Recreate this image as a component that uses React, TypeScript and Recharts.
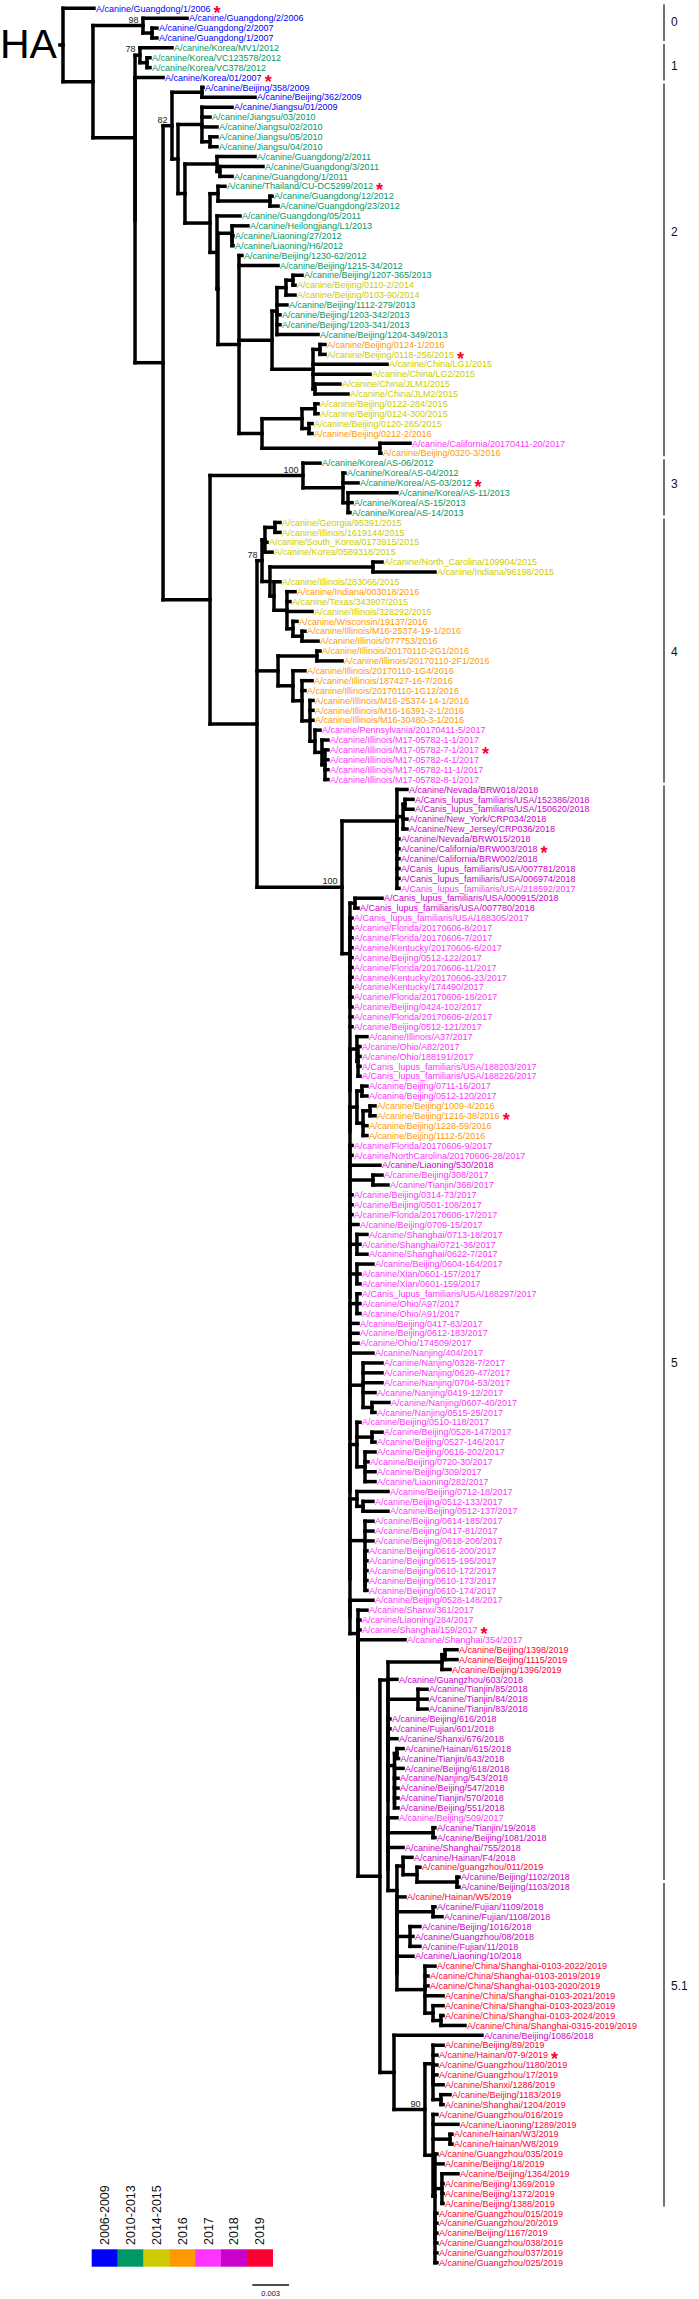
import React from 'react';
import { ScatterChart, Scatter, XAxis, YAxis, ReferenceLine } from 'recharts';

const FONT = '"Liberation Sans", Arial, Helvetica, sans-serif';
const W = 699;
const H = 2299;

// Tip labels, top to bottom
const LEAF_NAMES: string[] = [
  'A/canine/Guangdong/1/2006', 'A/canine/Guangdong/2/2006', 'A/canine/Guangdong/2/2007', 'A/canine/Guangdong/1/2007',
  'A/canine/Korea/MV1/2012', 'A/canine/Korea/VC123578/2012', 'A/canine/Korea/VC378/2012', 'A/canine/Korea/01/2007',
  'A/canine/Beijing/358/2009', 'A/canine/Beijing/362/2009', 'A/canine/Jiangsu/01/2009', 'A/canine/Jiangsu/03/2010',
  'A/canine/Jiangsu/02/2010', 'A/canine/Jiangsu/05/2010', 'A/canine/Jiangsu/04/2010', 'A/canine/Guangdong/2/2011',
  'A/canine/Guangdong/3/2011', 'A/canine/Guangdong/1/2011', 'A/canine/Thailand/CU-DC5299/2012', 'A/canine/Guangdong/12/2012',
  'A/canine/Guangdong/23/2012', 'A/canine/Guangdong/05/2011', 'A/canine/Heilongjiang/L1/2013', 'A/canine/Liaoning/27/2012',
  'A/canine/Liaoning/H6/2012', 'A/canine/Beijing/1230-62/2012', 'A/canine/Beijing/1215-34/2012', 'A/canine/Beijing/1207-365/2013',
  'A/canine/Beijing/0110-2/2014', 'A/canine/Beijing/0103-90/2014', 'A/canine/Beijing/1112-279/2013', 'A/canine/Beijing/1203-342/2013',
  'A/canine/Beijing/1203-341/2013', 'A/canine/Beijing/1204-349/2013', 'A/canine/Beijing/0124-1/2016', 'A/canine/Beijing/0118-256/2015',
  'A/canine/China/LG1/2015', 'A/canine/China/LG2/2015', 'A/canine/China/JLM1/2015', 'A/canine/China/JLM2/2015',
  'A/canine/Beijing/0122-284/2015', 'A/canine/Beijing/0124-300/2015', 'A/canine/Beijing/0120-265/2015', 'A/canine/Beijing/0212-2/2016',
  'A/canine/California/20170411-20/2017', 'A/canine/Beijing/0320-3/2016', 'A/canine/Korea/AS-06/2012', 'A/canine/Korea/AS-04/2012',
  'A/canine/Korea/AS-03/2012', 'A/canine/Korea/AS-11/2013', 'A/canine/Korea/AS-15/2013', 'A/canine/Korea/AS-14/2013',
  'A/canine/Georgia/95391/2015', 'A/canine/Illinois/1619144/2015', 'A/canine/South_Korea/0173915/2015', 'A/canine/Korea/0589318/2015',
  'A/canine/North_Carolina/109904/2015', 'A/canine/Indiana/96198/2015', 'A/canine/Illinois/283066/2015', 'A/canine/Indiana/003018/2016',
  'A/canine/Texas/343907/2015', 'A/canine/Illinois/328292/2015', 'A/canine/Wisconsin/19137/2016', 'A/canine/Illinois/M16-25374-19-1/2016',
  'A/canine/Illinois/077753/2016', 'A/canine/Illinois/20170110-2G1/2016', 'A/canine/Illinois/20170110-2F1/2016', 'A/canine/Illinois/20170110-1G4/2016',
  'A/canine/Illinois/187427-16-7/2016', 'A/canine/Illinois/20170110-1G12/2016', 'A/canine/Illinois/M16-25374-14-1/2016', 'A/canine/Illinois/M16-16391-2-1/2016',
  'A/canine/Illinois/M16-30480-3-1/2016', 'A/canine/Pennsylvania/20170411-5/2017', 'A/canine/Illinois/M17-05782-1-1/2017', 'A/canine/Illinois/M17-05782-7-1/2017',
  'A/canine/Illinois/M17-05782-4-1/2017', 'A/canine/Illinois/M17-05782-11-1/2017', 'A/canine/Illinois/M17-05782-8-1/2017', 'A/canine/Nevada/BRW018/2018',
  'A/Canis_lupus_familiaris/USA/152386/2018', 'A/Canis_lupus_familiaris/USA/150620/2018', 'A/canine/New_York/CRP034/2018', 'A/canine/New_Jersey/CRP036/2018',
  'A/canine/Nevada/BRW015/2018', 'A/canine/California/BRW003/2018', 'A/canine/California/BRW002/2018', 'A/Canis_lupus_familiaris/USA/007781/2018',
  'A/Canis_lupus_familiaris/USA/006974/2018', 'A/Canis_lupus_familiaris/USA/218592/2017', 'A/Canis_lupus_familiaris/USA/000915/2018', 'A/Canis_lupus_familiaris/USA/007780/2018',
  'A/Canis_lupus_familiaris/USA/188305/2017', 'A/canine/Florida/20170606-8/2017', 'A/canine/Florida/20170606-7/2017', 'A/canine/Kentucky/20170606-6/2017',
  'A/canine/Beijing/0512-122/2017', 'A/canine/Florida/20170606-11/2017', 'A/canine/Kentucky/20170606-23/2017', 'A/canine/Kentucky/174490/2017',
  'A/canine/Florida/20170606-18/2017', 'A/canine/Beijing/0424-102/2017', 'A/canine/Florida/20170606-2/2017', 'A/canine/Beijing/0512-121/2017',
  'A/canine/Illinois/A37/2017', 'A/canine/Ohio/A82/2017', 'A/canine/Ohio/188191/2017', 'A/Canis_lupus_familiaris/USA/188203/2017',
  'A/Canis_lupus_familiaris/USA/188226/2017', 'A/canine/Beijing/0711-16/2017', 'A/canine/Beijing/0512-120/2017', 'A/canine/Beijing/1009-4/2016',
  'A/canine/Beijing/1216-38/2016', 'A/canine/Beijing/1228-59/2016', 'A/canine/Beijing/1112-5/2016', 'A/canine/Florida/20170606-9/2017',
  'A/canine/NorthCarolina/20170606-28/2017', 'A/canine/Liaoning/530/2018', 'A/canine/Beijing/308/2017', 'A/canine/Tianjin/368/2017',
  'A/canine/Beijing/0314-73/2017', 'A/canine/Beijing/0501-108/2017', 'A/canine/Florida/20170606-17/2017', 'A/canine/Beijing/0709-15/2017',
  'A/canine/Shanghai/0713-18/2017', 'A/canine/Shanghai/0721-36/2017', 'A/canine/Shanghai/0622-7/2017', 'A/canine/Beijing/0604-164/2017',
  'A/canine/Xian/0601-157/2017', 'A/canine/Xian/0601-159/2017', 'A/Canis_lupus_familiaris/USA/188297/2017', 'A/canine/Ohio/A97/2017',
  'A/canine/Ohio/A91/2017', 'A/canine/Beijing/0417-83/2017', 'A/canine/Beijing/0612-183/2017', 'A/canine/Ohio/174509/2017',
  'A/canine/Nanjing/404/2017', 'A/canine/Nanjing/0328-7/2017', 'A/canine/Nanjing/0620-47/2017', 'A/canine/Nanjing/0704-53/2017',
  'A/canine/Nanjing/0419-12/2017', 'A/canine/Nanjing/0607-40/2017', 'A/canine/Nanjing/0515-25/2017', 'A/canine/Beijing/0510-118/2017',
  'A/canine/Beijing/0528-147/2017', 'A/canine/Beijing/0527-146/2017', 'A/canine/Beijing/0616-202/2017', 'A/canine/Beijing/0720-30/2017',
  'A/canine/Beijing/309/2017', 'A/canine/Liaoning/282/2017', 'A/canine/Beijing/0712-18/2017', 'A/canine/Beijing/0512-133/2017',
  'A/canine/Beijing/0512-137/2017', 'A/canine/Beijing/0614-185/2017', 'A/canine/Beijing/0417-81/2017', 'A/canine/Beijing/0618-206/2017',
  'A/canine/Beijing/0616-200/2017', 'A/canine/Beijing/0615-195/2017', 'A/canine/Beijing/0610-172/2017', 'A/canine/Beijing/0610-173/2017',
  'A/canine/Beijing/0610-174/2017', 'A/canine/Beijing/0528-148/2017', 'A/canine/Shanxi/361/2017', 'A/canine/Liaoning/284/2017',
  'A/canine/Shanghai/159/2017', 'A/canine/Shanghai/354/2017', 'A/canine/Beijing/1398/2019', 'A/canine/Beijing/1115/2019',
  'A/canine/Beijing/1396/2019', 'A/canine/Guangzhou/603/2018', 'A/canine/Tianjin/85/2018', 'A/canine/Tianjin/84/2018',
  'A/canine/Tianjin/83/2018', 'A/canine/Beijing/616/2018', 'A/canine/Fujian/601/2018', 'A/canine/Shanxi/676/2018',
  'A/canine/Hainan/615/2018', 'A/canine/Tianjin/643/2018', 'A/canine/Beijing/618/2018', 'A/canine/Nanjing/543/2018',
  'A/canine/Beijing/547/2018', 'A/canine/Tianjin/570/2018', 'A/canine/Beijing/551/2018', 'A/canine/Beijing/509/2017',
  'A/canine/Tianjin/19/2018', 'A/canine/Beijing/1081/2018', 'A/canine/Shanghai/755/2018', 'A/canine/Hainan/F4/2018',
  'A/canine/guangzhou/011/2019', 'A/canine/Beijing/1102/2018', 'A/canine/Beijing/1103/2018', 'A/canine/Hainan/W5/2019',
  'A/canine/Fujian/1109/2018', 'A/canine/Fujian/1108/2018', 'A/canine/Beijing/1016/2018', 'A/canine/Guangzhou/08/2018',
  'A/canine/Fujian/11/2018', 'A/canine/Liaoning/10/2018', 'A/canine/China/Shanghai-0103-2022/2019', 'A/canine/China/Shanghai-0103-2019/2019',
  'A/canine/China/Shanghai-0103-2020/2019', 'A/canine/China/Shanghai-0103-2021/2019', 'A/canine/China/Shanghai-0103-2023/2019', 'A/canine/China/Shanghai-0103-2024/2019',
  'A/canine/China/Shanghai-0315-2019/2019', 'A/canine/Beijing/1086/2018', 'A/canine/Beijing/89/2019', 'A/canine/Hainan/07-9/2019',
  'A/canine/Guangzhou/1180/2019', 'A/canine/Guangzhou/17/2019', 'A/canine/Shanxi/1286/2019', 'A/canine/Beijing/1183/2019',
  'A/canine/Shanghai/1204/2019', 'A/canine/Guangzhou/016/2019', 'A/canine/Liaoning/1289/2019', 'A/canine/Hainan/W3/2019',
  'A/canine/Hainan/W8/2019', 'A/canine/Guangzhou/035/2019', 'A/canine/Beijing/18/2019', 'A/canine/Beijing/1364/2019',
  'A/canine/Beijing/1369/2019', 'A/canine/Beijing/1372/2019', 'A/canine/Beijing/1388/2019', 'A/canine/Guangzhou/015/2019',
  'A/canine/Guangzhou/20/2019', 'A/canine/Beijing/1167/2019', 'A/canine/Guangzhou/038/2019', 'A/canine/Guangzhou/037/2019',
  'A/canine/Guangzhou/025/2019',
];

// Root-to-tip distance of each tip, in units of 0.0001 substitutions/site
const LEAF_DEPTH: number[] = [
  25.3, 101.4, 76.8, 76.8, 89.1, 71.1, 71.1, 81.8, 114.5, 157.0,
  138.2, 120.2, 125.9, 125.9, 125.9, 157.0, 163.5, 138.2, 132.4, 170.9,
  175.8, 144.7, 151.2, 139.0, 139.0, 146.3, 175.8, 195.4, 189.7, 189.7,
  183.1, 177.4, 177.4, 208.5, 214.2, 214.2, 264.9, 251.0, 226.4, 233.0,
  208.5, 208.5, 203.6, 203.6, 283.7, 259.9, 210.1, 230.5, 241.2, 273.0,
  236.3, 234.6, 177.4, 177.4, 166.8, 170.9, 260.8, 304.1, 177.4, 189.7,
  185.6, 203.6, 191.3, 197.8, 208.5, 210.1, 228.1, 197.8, 203.6, 197.8,
  204.4, 204.4, 204.4, 210.1, 216.6, 216.6, 216.6, 216.6, 216.6, 281.2,
  286.1, 286.1, 281.2, 281.2, 274.7, 274.7, 274.7, 274.7, 274.7, 274.7,
  260.8, 241.2, 236.3, 236.3, 236.3, 236.3, 236.3, 236.3, 236.3, 236.3,
  236.3, 236.3, 236.3, 236.3, 248.5, 242.8, 242.8, 242.8, 242.8, 248.5,
  248.5, 255.1, 255.1, 248.5, 248.5, 236.3, 236.3, 259.1, 260.8, 265.7,
  236.3, 236.3, 236.3, 241.2, 248.5, 242.8, 248.5, 253.4, 242.8, 242.8,
  242.8, 242.8, 242.8, 241.2, 241.2, 241.2, 253.4, 260.8, 260.8, 260.8,
  255.1, 266.5, 255.1, 242.8, 260.8, 255.1, 255.1, 249.3, 255.1, 255.1,
  265.7, 253.4, 265.7, 253.4, 253.4, 253.4, 248.5, 248.5, 248.5, 248.5,
  248.5, 253.4, 248.5, 242.8, 242.8, 279.6, 322.1, 322.1, 316.4, 273.0,
  297.6, 297.6, 297.6, 267.3, 267.3, 273.0, 278.0, 274.3, 278.0, 273.9,
  273.9, 273.9, 273.9, 273.0, 304.1, 304.1, 278.0, 285.3, 291.8, 323.7,
  323.7, 279.6, 304.1, 309.8, 291.8, 286.1, 291.8, 286.1, 304.1, 298.4,
  298.4, 310.7, 310.7, 310.7, 328.6, 342.5, 310.7, 305.7, 305.7, 305.7,
  310.7, 316.4, 310.7, 305.7, 322.9, 318.0, 318.0, 305.7, 310.7, 322.9,
  310.7, 310.7, 310.7, 305.7, 305.7, 305.7, 305.7, 305.7, 305.7,
];

// Tips marked with a red asterisk (1-based tip numbers)
const STARRED: number[] = [1, 8, 19, 36, 49, 76, 86, 113, 165, 208];

// Legend
const YEAR_GROUPS: string[] = ['2006-2009', '2010-2013', '2014-2015', '2016', '2017', '2018', '2019'];
const YEAR_LAST: number[] = [2009, 2013, 2015, 2016, 2017, 2018, 2019];
const YEAR_COLORS: string[] = ['#0000FF', '#009966', '#CCCC00', '#FF9900', '#FF33FF', '#CC00CC', '#FF0033'];
const STAR_COLOR = '#FF0033';

// Clade bars (1-based tip ranges) and where each clade name sits (tip position)
const CLADE_LABELS: string[] = ['0', '1', '2', '3', '4', '5', '5.1'];
const CLADE_FIRST: number[] = [1, 5, 9, 47, 53, 80, 191];
const CLADE_LAST: number[] = [4, 8, 46, 52, 79, 190, 223];
const CLADE_LABEL_AT: number[] = [2.4, 6.8, 23.6, 49.1, 66.1, 138, 201];

// Scale bar (0.003 substitutions/site = 30 units)
const SCALE_LABEL = '0.003';
const SCALE_LENGTH = 30;

// ---- Tree topology. Tips are tip numbers; ")label:depth" closes an internal node,
// depth = distance from the root in 0.0001 subst./site; label = bootstrap support.
function ladder(items: (string | number)[], depth: number): string {
  if (items.length === 2) return `(${items[0]},${items[1]}):${depth}`;
  return `(${items[0]},${ladder(items.slice(1), depth)}):${depth}`;
}

const N_C51 = `((207,208,(209,210,211,(212,213):309):302.5):302.5,(214,215,(216,217):316.4,(218,219,(220,221,222,223):309.8,(224,225,226,227,228,229):304.1):304.1):302.5)90:295.9`;
const N_CV = `(206,${N_C51}):270.6`;
const N_CW = ladder([
  '(188,(189,(190,191):322.1):289.4):278', 192, '(193,194):302.5', '(195,196,197):283.7', 198,
  '(199,200,201,202,(203,(204,205):309):302.5):295.9',
], 273);
const N_HN = `((177,178):273,${ladder([179, 180, 181, 182, 183], 271)}):271`;
const N_CU = ladder([
  '((167,168):312.3,169):309.8', 170, '(171,172,173):290.2', 174, 175, 176, N_HN, 184,
  '(185,186):302.5', 187, N_CW,
], 265.7);
const N_CT = `(${N_CU},${N_CV}):259.1`;
const N_CS = ladder([163, 164, 165, 166, N_CT], 241.2);
const N_BACKBONE = ladder([
  '(105,(106,107,108,109):241.2):240.3',
  '((110,111):244.4,((112,113):251,114,115):245.3):240.3',
  116, 117, 118,
  '(119,120):253.4',
  121, 122, 123, 124,
  '(125,126,127):240.3',
  '(128,129,130):240.3',
  '(131,132,133):240.3',
  134, 135, 136, 137,
  '(138,139,140,141,(142,143):252.6):245.3',
  '(144,(145,146):252.6,(147,148,149,150):246.9):240.3',
  '(151,(152,153):245.3):240.3',
  `(154,155,156,${ladder([157, 158, 159, 160, 161], 246.9)}):246.9`,
  162, N_CS,
], 234.6);
const N_CR = `((91,92):238.7,(93,94,95,96,97,98,99,100,101,102,103,104,${N_BACKBONE}):234.6):234.6`;
const N_C5 = `((80,(((81,82):279.6,83,84):278,85,86,87,88,89,90):273):273,${N_CR})100:228.1`;
const N_C4 = `(((53,54):173.3,55,56):165.1,((57,58):253.4,(59,(60,61,62,(63,(64,65):195.4):188):183.1):172.5):169.2)78:162.7`;
const N_AA = `((66,67):207.6,(68,(69,70,(71,72,73,(74,(75,(76,77,78,79):214.2):211.7):206):201.9):195.4):188):175.8`;
const N_C3 = `(47,(48,49,(50,51,52):233):228.9)100:196.2`;
const N_G = `(${N_C3},(${N_C4},${N_AA},${N_C5}):158.6):120.2`;
const N_O = `(26,27,((((28,29):188,30):182.3,31,32,33,34):174.9,((35,36):210.1,37,38,(39,40):206):204.4):170.9,(((41,42):206,(43,44):201.1):195.4,(45,46):259.1):162.7):143.9`;
const N_K = `((19,(20,21):169.2):126.7,(22,((23,(24,25):138.2):138.2,${N_O}):126.7):125.9):120.2`;
const N_82 = `((9,10):113.6,((11,12,13,(14,15):120.2):113.6,((16,(17,18):128.3):125.9,${N_K}):99.7):94)82:89.1`;
const TREE = `(1,((2,(3,4):72.8)98:65.4,((5,(6,7):68.7)78:62.9,(8,(${N_82},${N_G}):81.8):58.9):58.9):24.5):0`;
const ROOT_STEM = 2.5;

// ---- parsing / layout
interface TNode { children: TNode[]; depth: number; leaf?: number; label?: string; y: number; }

function parseTree(src: string): TNode {
  const s = src.replace(/\s+/g, '');
  let i = 0;
  const readWhile = (re: RegExp) => { let t = ''; while (i < s.length && re.test(s[i])) t += s[i++]; return t; };
  const node = (): TNode => {
    if (s[i] === '(') {
      i++;
      const children: TNode[] = [];
      for (;;) {
        children.push(node());
        if (s[i] === ',') { i++; continue; }
        if (s[i] === ')') { i++; break; }
        throw new Error('bad tree at ' + i);
      }
      const label = readWhile(/[0-9.]/);
      let depth = 0;
      if (s[i] === ':') { i++; depth = parseFloat(readWhile(/[0-9.\-]/)); }
      return { children, depth, label: label || undefined, y: 0 };
    }
    const leaf = parseInt(readWhile(/[0-9]/), 10);
    return { children: [], depth: LEAF_DEPTH[leaf - 1], leaf, y: 0 };
  };
  return node();
}

function layout(n: TNode): void {
  if (n.leaf !== undefined) { n.y = n.leaf - 1; return; }
  n.children.forEach(layout);
  n.y = (n.children[0].y + n.children[n.children.length - 1].y) / 2;
}

type Seg = { x1: number; y1: number; x2: number; y2: number };
const ROOT = parseTree(TREE);
layout(ROOT);
const SEGS: Seg[] = [];
const SUPPORT: { x: number; y: number; label: string }[] = [];
(function walk(n: TNode, parent: TNode | null) {
  if (parent && n.depth > parent.depth) SEGS.push({ x1: parent.depth, y1: n.y, x2: n.depth, y2: n.y });
  if (n.children.length) {
    SEGS.push({ x1: n.depth, y1: n.children[0].y, x2: n.depth, y2: n.children[n.children.length - 1].y });
    if (n.label) SUPPORT.push({ x: n.depth, y: n.y, label: n.label });
    n.children.forEach((c) => walk(c, n));
  }
})(ROOT, null);
SEGS.push({ x1: -ROOT_STEM, y1: ROOT.y, x2: 0, y2: ROOT.y });

const colorOf = (name: string) => {
  const yr = parseInt(name.slice(-4), 10);
  const k = YEAR_LAST.findIndex((l) => yr <= l);
  return YEAR_COLORS[k < 0 ? YEAR_COLORS.length - 1 : k];
};
const LEAVES = LEAF_NAMES.map((name, k) => ({
  x: LEAF_DEPTH[k], y: k, name, color: colorOf(name), star: STARRED.includes(k + 1),
}));

// axes: 1 unit = 0.0001 subst/site
const PX_PER_UNIT = 1.2232;
const ROOT_PX = 63;
const X_MIN = -ROOT_PX / PX_PER_UNIT;
const X_MAX = X_MIN + W / PX_PER_UNIT;
const ROW_PX = 9.888;
const FIRST_ROW_PX = 8.3;
const Y_MIN = -FIRST_ROW_PX / ROW_PX;
const Y_MAX = Y_MIN + H / ROW_PX;
const CLADE_X = (664 - ROOT_PX) / PX_PER_UNIT;
const SCALE_X = (252.3 - ROOT_PX) / PX_PER_UNIT;
const SCALE_Y = (2285 - FIRST_ROW_PX) / ROW_PX;

const CLADES = CLADE_LABELS.map((label, k) => ({
  x: CLADE_X, y: CLADE_LABEL_AT[k] - 1, label,
  y1: CLADE_FIRST[k] - 1 - 0.4, y2: CLADE_LAST[k] - 1 + 0.3,
}));

const LeafLabel = (p: any) => {
  const { cx, cy, payload } = p;
  return (
    <text x={cx + 2} y={cy + 3.2} fontSize={9} fontFamily={FONT} fill={payload.color}>
      {payload.name}
      {payload.star ? (
        <tspan dx={3} dy={7} fontSize={18} fontWeight={700} fill={STAR_COLOR}>*</tspan>
      ) : null}
    </text>
  );
};
const SupportLabel = (p: any) => (
  <text x={p.cx - 4.5} y={p.cy - 3} fontSize={9} fontFamily={FONT} fill="#222" textAnchor="end">
    {p.payload.label}
  </text>
);
const CladeLabel = (p: any) => (
  <text x={p.cx + 7} y={p.cy + 4.3} fontSize={12} fontFamily={FONT} fill="#111">{p.payload.label}</text>
);
const ScaleLabel = (p: any) => (
  <text x={p.cx} y={p.cy + 10.5} fontSize={7.5} fontFamily={FONT} fill="#111" textAnchor="middle">{p.payload.label}</text>
);

export default function App() {
  const boxX = 91.7, boxY = 2249.3, boxW = 25.86, boxH = 17.4;
  return (
    <div style={{ position: 'absolute', left: 0, top: 0, width: W, height: H, background: '#fff' }}>
      <ScatterChart width={W} height={H} margin={{ top: 0, right: 0, bottom: 0, left: 0 }}>
        <XAxis type="number" dataKey="x" domain={[X_MIN, X_MAX]} hide allowDataOverflow />
        <YAxis type="number" dataKey="y" domain={[Y_MIN, Y_MAX]} reversed hide allowDataOverflow />
        {SEGS.map((s, k) => (
          <ReferenceLine key={'s' + k} segment={[{ x: s.x1, y: s.y1 }, { x: s.x2, y: s.y2 }]}
            stroke="#000" strokeWidth={3.5} strokeLinecap="square" ifOverflow="visible" />
        ))}
        {CLADES.map((c, k) => (
          <ReferenceLine key={'c' + k} segment={[{ x: c.x, y: c.y1 }, { x: c.x, y: c.y2 }]}
            stroke="#111" strokeWidth={1.2} ifOverflow="visible" />
        ))}
        <ReferenceLine segment={[{ x: SCALE_X, y: SCALE_Y }, { x: SCALE_X + SCALE_LENGTH, y: SCALE_Y }]}
          stroke="#111" strokeWidth={1.6} ifOverflow="visible" />
        <Scatter data={LEAVES} shape={LeafLabel} isAnimationActive={false} />
        <Scatter data={SUPPORT} shape={SupportLabel} isAnimationActive={false} />
        <Scatter data={CLADES} shape={CladeLabel} isAnimationActive={false} />
        <Scatter data={[{ x: SCALE_X + SCALE_LENGTH / 2, y: SCALE_Y, label: SCALE_LABEL }]} shape={ScaleLabel} isAnimationActive={false} />
      </ScatterChart>
      <svg width={W} height={H} style={{ position: 'absolute', left: 0, top: 0, pointerEvents: 'none' }}>
        <text x={0} y={58.3} fontSize={41} fontFamily={FONT} fill="#000">HA</text>
        {YEAR_GROUPS.map((g, i) => (
          <g key={g}>
            <rect x={boxX + i * boxW} y={boxY} width={boxW + 0.3} height={boxH} fill={YEAR_COLORS[i]} />
            <text transform={`translate(${boxX + i * boxW + boxW / 2 + 4.5}, 2245) rotate(-90)`}
              fontSize={12.5} fontFamily={FONT} fill="#111">{g}</text>
          </g>
        ))}
      </svg>
    </div>
  );
}
